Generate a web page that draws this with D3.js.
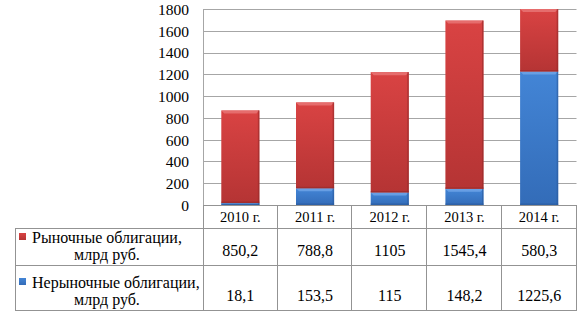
<!DOCTYPE html>
<html><head><meta charset="utf-8">
<script src="https://cdn.jsdelivr.net/npm/d3@7"></script>
<style>body{margin:0;background:#fff}svg{display:block}</style>
</head><body>
<svg id="c" width="577" height="312"></svg>
<script>
const categories = ["2010 г.", "2011 г.", "2012 г.", "2013 г.", "2014 г."];
const market = [850.2, 788.8, 1105, 1545.4, 580.3];
const nonMarket = [18.1, 153.5, 115, 148.2, 1225.6];
const marketLabels = ["850,2", "788,8", "1105", "1545,4", "580,3"];
const nonMarketLabels = ["18,1", "153,5", "115", "148,2", "1225,6"];
const yTicks = [0, 200, 400, 600, 800, 1000, 1200, 1400, 1600, 1800];
const seriesNames = [["Рыночные облигации,", "млрд руб."], ["Нерыночные облигации,", "млрд руб."]];

const FONT = "'Liberation Serif'";
const svg = d3.select("#c");
const pLeft = 203, pRight = 576.5, pTop = 9, pBottom = 205;
const x = d3.scaleBand().domain(categories).range([pLeft, pRight]).paddingInner(0).paddingOuter(0);
const y = d3.scaleLinear().domain([0, 1800]).range([pBottom, pTop]).clamp(true);

const defs = svg.append("defs");
function grad(id, c1, c2) {
  const g = defs.append("linearGradient").attr("id", id).attr("x1", 0).attr("y1", 0).attr("x2", 0).attr("y2", 1);
  g.append("stop").attr("offset", "0%").attr("stop-color", c1);
  g.append("stop").attr("offset", "100%").attr("stop-color", c2);
}
grad("gr", "#d94343", "#b53434");
grad("gb", "#4385d6", "#336cb8");

// gridlines
const grid = svg.append("g");
yTicks.forEach(t => {
  grid.append("line").attr("x1", pLeft).attr("x2", pRight).attr("y1", Math.round(y(t)) + 0.5).attr("y2", Math.round(y(t)) + 0.5)
    .attr("stroke", "#a6a6a6").attr("stroke-width", 1);
});
svg.append("line").attr("x1", pLeft + 0.5).attr("x2", pLeft + 0.5).attr("y1", y(1800)).attr("y2", pBottom).attr("stroke", "#a6a6a6");

// y axis labels
const yAxis = d3.axisLeft(y).tickValues(yTicks).tickSize(0).tickPadding(14).tickFormat(d3.format("d"));
const ya = svg.append("g").attr("transform", `translate(${pLeft},0)`).call(yAxis);
ya.attr("font-family", null).attr("font-size", null);
ya.select(".domain").remove();
ya.selectAll("text").attr("style", `font-family:${FONT};font-size:15.5px`).attr("fill", "#000").attr("dy", "0.35em");

// bars
const bw = x.bandwidth() * 0.51;
const stacks = categories.map((c, i) => ({c, segs: [
  {y0: 0, y1: nonMarket[i], f: "url(#gb)", hi: "#6fa3e6", dk: "#2a5a9c"},
  {y0: nonMarket[i], y1: nonMarket[i] + market[i], f: "url(#gr)", hi: "#e87474", dk: "#962a2a"}
]}));
const bars = svg.append("g");
stacks.forEach(s => {
  const x0 = x(s.c) + (x.bandwidth() - bw) / 2;
  s.segs.forEach(seg => {
    const yt = y(seg.y1), yb = y(seg.y0), h = yb - yt;
    if (h <= 0) return;
    bars.append("rect").attr("x", x0).attr("y", yt).attr("width", bw).attr("height", h).attr("fill", seg.f);
    const bv = Math.min(3, h / 2);
    bars.append("polygon").attr("points", [[x0, yt], [x0 + bw, yt], [x0 + bw - bv, yt + bv], [x0 + bv, yt + bv]].map(p => p.join(",")).join(" "))
      .attr("fill", seg.hi).attr("opacity", 0.85);
    bars.append("rect").attr("x", x0 + bw - 1.5).attr("y", yt).attr("width", 1.5).attr("height", h).attr("fill", seg.dk).attr("opacity", 0.6);
    bars.append("rect").attr("x", x0).attr("y", yb - 1.5).attr("width", bw).attr("height", 1.5).attr("fill", seg.dk).attr("opacity", 0.6);
  });
});

// data table
const tbl = svg.append("g");
const tLeft = 15, r0 = 205, r1 = 228, r2 = 265, r3 = 310;
const bc = "#939393";
function hl(x1, x2, yy) { tbl.append("line").attr("x1", x1).attr("x2", x2).attr("y1", yy + 0.5).attr("y2", yy + 0.5).attr("stroke", bc); }
function vl(xx, y1, y2) { tbl.append("line").attr("x1", xx + 0.5).attr("x2", xx + 0.5).attr("y1", y1).attr("y2", y2).attr("stroke", bc); }
hl(pLeft, pRight, r0); hl(tLeft, pRight, r1); hl(tLeft, pRight, r2); hl(tLeft, pRight, r3);
vl(tLeft, r1, r3 + 1);
vl(pLeft, r0, r3 + 1);
categories.forEach(c => vl(Math.round(x(c) + x.bandwidth()) - 1, r0, r3 + 1));

function txt(xx, yy, s, anchor, size) {
  return tbl.append("text").attr("x", xx).attr("y", yy).attr("text-anchor", anchor || "start")
    .attr("style", `font-family:${FONT};font-size:${size || 16}px`).attr("fill", "#000").text(s);
}
categories.forEach((c, i) => {
  const cx = x(c) + x.bandwidth() / 2;
  txt(cx, 222, c, "middle", 14.5);
  txt(cx, 256, marketLabels[i], "middle");
  txt(cx, 301, nonMarketLabels[i], "middle");
});

// legend keys and labels
const keys = [{fill: "url(#gr)", y: 233, l1: 243, l2: 260, n: seriesNames[0]}, {fill: "url(#gb)", y: 278, l1: 288, l2: 305, n: seriesNames[1]}];
keys.forEach(k => {
  tbl.append("rect").attr("x", 19).attr("y", k.y).attr("width", 7).attr("height", 7).attr("fill", k.fill);
  txt(32, k.l1, k.n[0]);
  txt(107, k.l2, k.n[1], "middle");
});
</script>
</body></html>
